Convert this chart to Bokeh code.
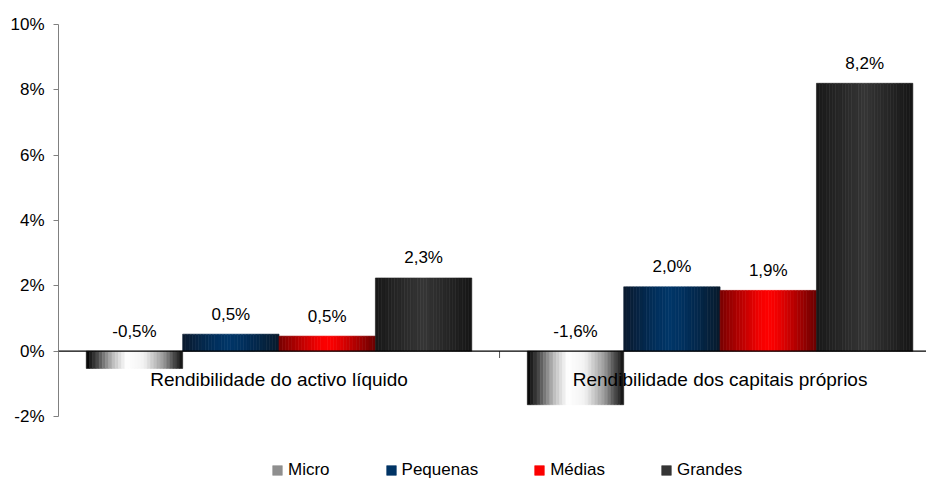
import numpy as np
from bokeh.plotting import figure
from bokeh.models import (Range1d, ColumnDataSource, Legend, LegendItem, Span,
                          PrintfTickFormatter, FixedTicker)
from bokeh.core.properties import value
from bokeh.embed import file_html
from bokeh.resources import INLINE

# ---------------- data ----------------
categories = ["Rendibilidade do activo líquido", "Rendibilidade dos capitais próprios"]
series_names = ["Micro", "Pequenas", "Médias", "Grandes"]
micro = [-0.53, -1.64]
pequenas = [0.52, 1.97]
medias = [0.46, 1.86]
grandes = [2.24, 8.20]
micro_labels = ["-0,5%", "-1,6%"]
pequenas_labels = ["0,5%", "2,0%"]
medias_labels = ["0,5%", "1,9%"]
grandes_labels = ["2,3%", "8,2%"]
y_ticks = [-2, 0, 2, 4, 6, 8, 10]

series_values = [micro, pequenas, medias, grandes]
series_labels = [micro_labels, pequenas_labels, medias_labels, grandes_labels]

# ---------------- style ----------------
FONT = "Liberation Sans"
gradients = [
    [(0.0, "#000000"), (0.12, "#4a4a4a"), (0.28, "#bdbdbd"), (0.42, "#ffffff"),
     (0.6, "#f2f2f2"), (0.8, "#9a9a9a"), (1.0, "#0c0c0c")],
    [(0.0, "#0a1a2e"), (0.35, "#00305e"), (0.48, "#003668"), (0.62, "#00305e"), (1.0, "#081a2c")],
    [(0.0, "#780000"), (0.4, "#f00000"), (0.5, "#ff0000"), (0.6, "#f00000"), (1.0, "#6a0000")],
    [(0.0, "#181818"), (0.5, "#363636"), (1.0, "#151515")],
]
legend_index_t = [0.2, 0.5, 0.5, 0.5]
N_STRIPS = 30
BAR_W = 0.2185


def hex_to_rgb(h):
    h = h.lstrip("#")
    return np.array([int(h[i:i + 2], 16) for i in (0, 2, 4)], dtype=float)


def grad_color(stops, t):
    for (p0, c0), (p1, c1) in zip(stops[:-1], stops[1:]):
        if p0 <= t <= p1:
            f = (t - p0) / (p1 - p0) if p1 > p0 else 0.0
            rgb = hex_to_rgb(c0) * (1 - f) + hex_to_rgb(c1) * f
            return "#%02x%02x%02x" % tuple(int(round(v)) for v in rgb)
    return stops[-1][1]


# frame spans down to the page bottom so the legend can sit inside it
p = figure(width=926, height=480, output_backend="svg", toolbar_location=None,
           x_axis_type=None, x_range=Range1d(0, 1.968), y_range=Range1d(-3.96, 10),
           min_border_left=58, min_border_right=0,
           min_border_top=24, min_border_bottom=0)
p.outline_line_color = None
p.xgrid.visible = False
p.ygrid.visible = False

cat_centers = np.arange(len(categories)) + 0.5

legend_items = []
for i, (name, vals) in enumerate(zip(series_names, series_values)):
    vals = np.array(vals, dtype=float)
    centers = cat_centers + (i - 1.5) * BAR_W
    lefts, rights, tops, bottoms, colors = [], [], [], [], []
    for c, v in zip(centers, vals):
        for j in range(N_STRIPS):
            l = c - BAR_W / 2 + j * BAR_W / N_STRIPS
            lefts.append(float(l))
            rights.append(float(l + BAR_W / N_STRIPS))
            tops.append(float(max(v, 0.0)))
            bottoms.append(float(min(v, 0.0)))
            colors.append(grad_color(gradients[i], (j + 0.5) / N_STRIPS))
    src = ColumnDataSource(dict(left=lefts, right=rights, top=tops, bottom=bottoms, color=colors))
    r = p.quad(left="left", right="right", top="top", bottom="bottom", source=src,
               fill_color="color", line_color="color", line_width=0.6)
    legend_items.append(LegendItem(label=name, renderers=[r],
                                   index=int(legend_index_t[i] * N_STRIPS)))

# zero line and category ticks
p.add_layout(Span(location=0, dimension="width", line_color="black", line_width=1.2))
bounds = [float(b) for b in np.arange(len(categories) + 1)]
p.segment(x0=bounds, y0=[0.0] * len(bounds), x1=bounds, y1=[-0.21] * len(bounds),
          line_color="#555555", line_width=1)

# value labels
for i, (vals, labs) in enumerate(zip(series_values, series_labels)):
    centers = [float(c) for c in cat_centers + (i - 1.5) * BAR_W]
    ys = [float(max(v, 0.0)) for v in vals]
    p.text(x=centers, y=ys, text=labs, text_align="center", text_baseline="middle",
           y_offset=-20, text_font=value(FONT), text_font_size="17px", text_color="#000000")

# category labels
p.text(x=[float(c) for c in cat_centers], y=[0.0] * len(categories), text=categories,
       text_align="center", text_baseline="middle", y_offset=28, text_font=value(FONT),
       text_font_size="19px", text_color="#000000")

# y axis
yax = p.yaxis[0]
yax.ticker = FixedTicker(ticks=y_ticks)
yax.bounds = (min(y_ticks), max(y_ticks))
yax.formatter = PrintfTickFormatter(format="%d%%")
yax.axis_line_color = "#808080"
yax.major_tick_line_color = "#808080"
yax.major_tick_out = 5
yax.major_tick_in = 0
yax.minor_tick_line_color = None
yax.major_label_text_font = FONT
yax.major_label_text_font_size = "17px"
yax.major_label_text_color = "#000000"
yax.major_label_standoff = 9

legend = Legend(items=legend_items, orientation="horizontal", location=(213, 0),
                border_line_color=None, background_fill_alpha=0, padding=0, margin=0,
                glyph_width=12, glyph_height=12, label_standoff=5, spacing=55,
                label_text_font=FONT, label_text_font_size="17px", label_text_color="#000000")
p.add_layout(legend, "center")

open("out.html", "w").write(file_html(p, INLINE))
